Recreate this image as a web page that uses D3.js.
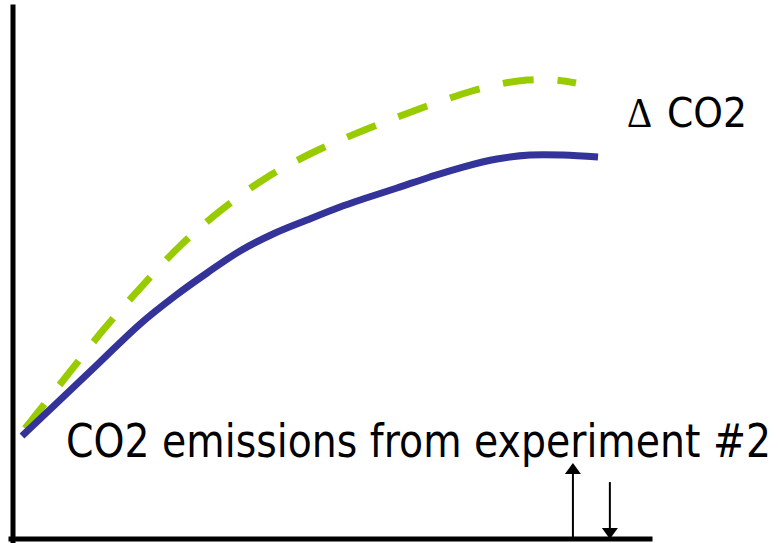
<!DOCTYPE html>
<html>
<head>
<meta charset="utf-8">
<script src="https://cdn.jsdelivr.net/npm/d3@7"></script>
<style>
  html, body { margin: 0; padding: 0; background: #ffffff; }
  svg { display: block; }
</style>
</head>
<body>
<script>
// ---- data (abstract units: x 0..100, y 0..100) ----
const blueX = [1.41, 7.38, 13.66, 19.94, 25.43, 30.46, 35.64, 40.82, 46.15, 51.33, 54.95, 60.28, 65.46, 70.64, 75.98, 81.16, 86.34, 91.84];
const blueY = [19.36, 26.13, 33.27, 40.41, 45.68, 50.00, 54.14, 57.33, 59.96, 62.41, 63.91, 65.98, 68.05, 69.92, 71.43, 72.18, 72.18, 71.80];
const greenX = [1.41, 3.45, 8.79, 14.29, 20.41, 26.22, 32.50, 39.72, 47.57, 55.57, 63.74, 72.06, 76.45, 80.69, 85.09, 88.38];
const greenY = [20.11, 23.12, 31.20, 39.47, 47.74, 55.08, 61.65, 67.86, 72.93, 77.07, 80.83, 84.21, 85.53, 86.28, 86.28, 85.71];
const arrowUp = { x: 87.9, y0: 0, y1: 14.3 };
const arrowDown = { x: 93.7, y0: 10.7, y1: 0 };
const labelMain = "CO2 emissions from experiment #2";
const labelDelta = "\u0394";
const labelCO2 = "CO2";

const W = 778, H = 543;
const svg = d3.select("body").append("svg").attr("width", W).attr("height", H);

const x = d3.scaleLinear().domain([0, 100]).range([13, 650]);
const y = d3.scaleLinear().domain([0, 100]).range([539, 7]);

// axes (no ticks)
const ax = svg.append("g").attr("transform", `translate(${x(0)},0)`)
  .call(d3.axisLeft(y).ticks(0).tickSizeOuter(0));
const bx = svg.append("g").attr("transform", `translate(0,${y(0)})`)
  .call(d3.axisBottom(x).ticks(0).tickSizeOuter(0));
svg.selectAll(".domain").attr("stroke", "#000").attr("stroke-width", 5).attr("stroke-linecap", "square");
ax.select(".domain").attr("d", `M0,${y(100)}V${y(0) + 2}`);
bx.select(".domain").attr("d", `M${x(0) - 2},0H${x(100)}`);

const line = d3.line().x(d => x(d[0])).y(d => y(d[1])).curve(d3.curveCatmullRom.alpha(0.5));

const greenData = greenX.map((v, i) => [v, greenY[i]]);
const blueData = blueX.map((v, i) => [v, blueY[i]]);

svg.append("path").datum(greenData)
  .attr("d", line).attr("fill", "none")
  .attr("stroke", "#99cc00").attr("stroke-width", 7)
  .attr("stroke-dasharray", "31,24")
  .attr("stroke-dashoffset", 50);

svg.append("path").datum(blueData)
  .attr("d", line).attr("fill", "none")
  .attr("stroke", "#333399").attr("stroke-width", 7);

// arrows
function arrow(a) {
  const xs = x(a.x), ys = y(a.y0), ye = y(a.y1);
  const dir = ye < ys ? -1 : 1;
  const headLen = 11, headW = 8;
  svg.append("line").attr("x1", xs).attr("x2", xs).attr("y1", ys).attr("y2", ye - dir * headLen)
    .attr("stroke", "#000").attr("stroke-width", 2);
  svg.append("path")
    .attr("d", `M${xs},${ye}L${xs - headW},${ye - dir * headLen}L${xs + headW},${ye - dir * headLen}Z`)
    .attr("fill", "#000");
}
arrow(arrowUp);
arrow(arrowDown);

// labels
svg.append("text").attr("x", 66).attr("y", 457)
  .attr("font-family", "'Comic Sans MS', 'DejaVu Sans', sans-serif")
  .attr("font-size", 46).attr("fill", "#000")
  .attr("textLength", 705).attr("lengthAdjust", "spacingAndGlyphs")
  .text(labelMain);

svg.append("text").attr("x", 627).attr("y", 127)
  .attr("font-family", "'Liberation Serif', 'DejaVu Serif', serif")
  .attr("font-size", 42).attr("fill", "#000")
  .attr("textLength", 25).attr("lengthAdjust", "spacingAndGlyphs")
  .text(labelDelta);

svg.append("text").attr("x", 667).attr("y", 127)
  .attr("font-family", "'Comic Sans MS', 'DejaVu Sans', sans-serif")
  .attr("font-size", 40).attr("fill", "#000")
  .attr("textLength", 80).attr("lengthAdjust", "spacingAndGlyphs")
  .text(labelCO2);
</script>
</body>
</html>
